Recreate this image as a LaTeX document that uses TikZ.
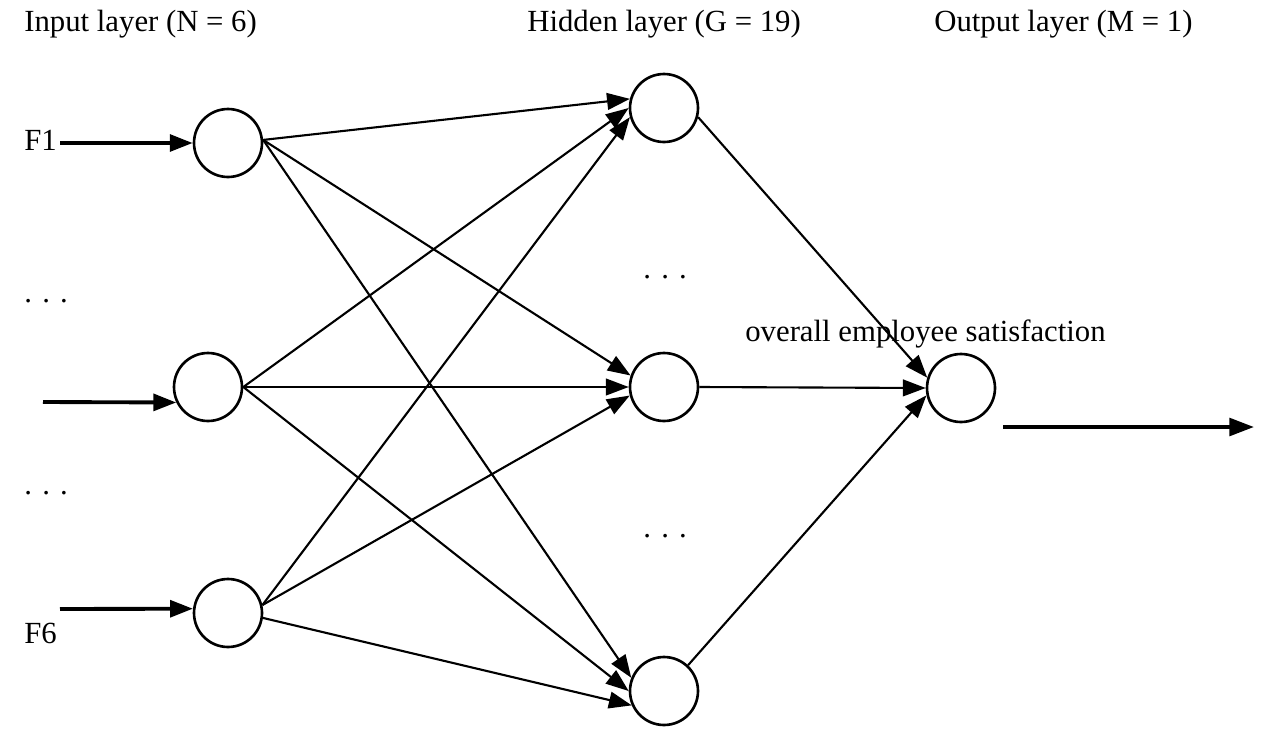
\documentclass[tikz,border=0pt]{standalone}
\usepackage{fontspec}
\setmainfont{Liberation Serif}
\usetikzlibrary{arrows.meta}

\begin{document}
\begin{tikzpicture}[x=0.02cm, y=-0.02cm, node/.style={draw, circle, line width=1.5pt, minimum size=1.36cm, inner sep=0pt},
        font=\fontsize{17.5}{21}\selectfont]
        \tikzstyle{edge}=[line width=1.2pt, -{Triangle[length=13pt, width=9.5pt]}]
        \tikzstyle{feed}=[line width=2.2pt, -{Triangle[length=13pt, width=9.5pt]}]
        \tikzstyle{label}=[inner sep=0pt, anchor=base west]
        \useasboundingbox (0, 0) rectangle (1274, 734);

        \node[label] (tin)  at (24,  31) {Input layer (N = 6)};
        \node[label] (thid) at (527, 31) {Hidden layer (G = 19)};
        \node[label] (tout) at (934, 31) {Output layer (M = 1)};

        \node[node] (i1) at (228, 143) {};
        \node[node] (i2) at (208, 387) {};
        \node[node] (i3) at (228, 613) {};
        \node[node] (h1) at (664, 108) {};
        \node[node] (h2) at (664, 387) {};
        \node[node] (h3) at (664, 691) {};
        \node[node] (o)  at (961, 388) {};

        \node[label] (f1) at (24, 150) {F1};
        \node[label] (f6) at (24, 643) {F6};
        \node[label] (d1) at (24, 302) {.\,\,.\,\,.};
        \node[label] (d2) at (24, 494) {.\,\,.\,\,.};
        \node[label] (d3) at (643, 278) {.\,\,.\,\,.};
        \node[label] (d4) at (643, 537) {.\,\,.\,\,.};
        \node[label] (sat) at (745, 341) {overall employee satisfaction};

        \coordinate (in1) at (60, 143);
        \coordinate (in2) at (43, 402);
        \coordinate (in6) at (60, 609);
        \coordinate (out1) at (1003, 427);
        \coordinate (out2) at (1254, 427);

        \draw[feed] (in1) -- (i1.west);
        \draw[feed] (in2) -- (i2.206);
        \draw[feed] (in6) -- (i3.173);

        \draw[edge] (i1.5) -- (h1.165);
        \draw[edge] (i1.5) -- (h2.161);
        \draw[edge] (i1.5) -- (h3.158);
        \draw[edge] (i2.east) -- (h1.180);
        \draw[edge] (i2.east) -- (h2.west);
        \draw[edge] (i2.east) -- (h3.180);
        \draw[edge] (i3.13) -- (h1.195);
        \draw[edge] (i3.13) -- (h2.194);
        \draw[edge] (i3.-8) -- (h3.204);

        \draw[edge] (h1.-15) -- (o.163);
        \draw[edge] (h2.east) -- (o.west);
        \draw[edge] (h3.47) -- (o.192);

        \draw[feed, -{Triangle[length=14pt, width=10pt]}] (out1) -- (out2);
    \end{tikzpicture}
\end{document}
